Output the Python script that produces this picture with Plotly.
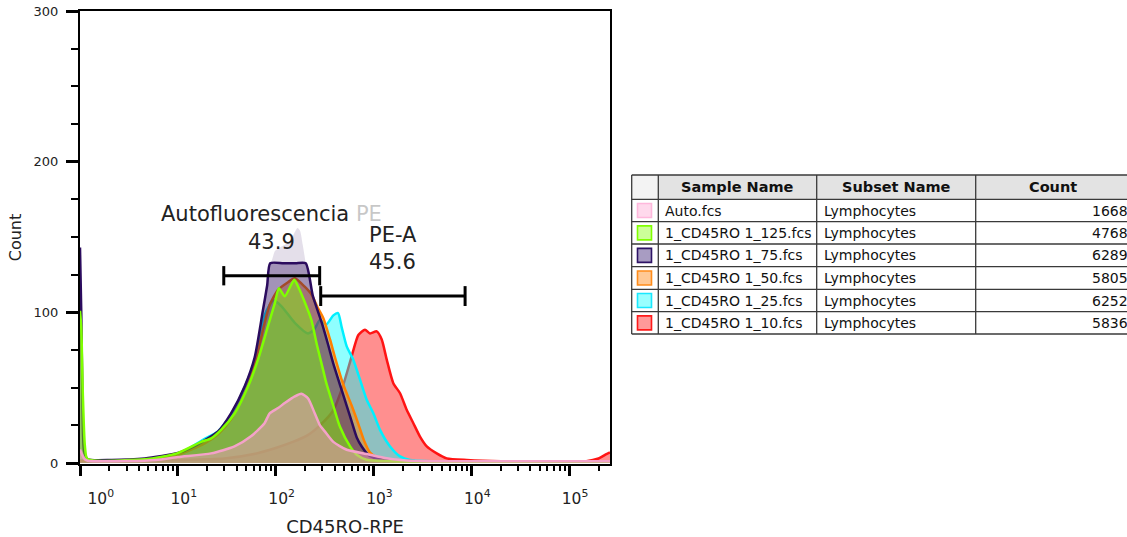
import math
import plotly.graph_objects as go

# ---------------- data ----------------
# CD45RO-RPE intensity (x) and Count (y) for each overlaid histogram
x_auto = [1, 1.06, 1.12, 1.2, 3, 6, 10, 21.9, 38, 56, 77, 87, 106, 124, 157, 183, 214, 251, 284, 318, 389, 533, 853, 1368, 1900, 3000, 262144]
y_auto = [9, 5, 2.5, 1.5, 1.3, 2, 4, 6.4, 11, 17.7, 26.4, 33, 36.5, 39.8, 44.2, 46, 43, 33, 25, 21, 14, 8.8, 6, 3.1, 2, 1.3, 1.2]

x_125 = [1, 1.03, 1.07, 1.12, 1.18, 1.5, 4.6, 6.7, 10, 17.3, 21.9, 27.7, 38.2, 52.2, 66, 83.6, 98, 108, 124, 155, 170, 195, 232, 263, 300, 330, 389, 455, 577, 675, 853, 1500, 262144]
y_125 = [101, 90, 45, 12, 3, 1.5, 2.5, 4, 6.6, 14, 16.4, 22, 33, 50.7, 68.6, 91, 106, 116, 110.6, 121.7, 117, 108, 95, 79, 64, 53, 38, 24, 11, 5.5, 2.2, 1.2, 1]

x_75 = [1, 1.03, 1.06, 1.1, 1.2, 2.1, 4.6, 10, 13.6, 18.8, 25.8, 35, 48.3, 61, 74, 82, 88, 120, 160, 203, 240, 300, 346, 389, 492, 577, 675, 759, 900, 1081, 1500, 3000, 262144]
y_75 = [143, 100, 40, 8, 2.5, 2, 3, 6.6, 10, 15, 21, 33, 51, 70, 101, 118, 132.6, 132.6, 132.6, 132.6, 111, 92, 78, 66, 45, 31, 17, 11, 5, 3, 1.6, 1.2, 1]

x_75_peak = [88, 91, 98.5, 115, 134, 152, 167, 178, 189, 203]
y_75_peak = [132.6, 134, 140.7, 143.7, 146, 151.4, 155.9, 154, 145, 132.6]

x_50 = [1, 1.3, 4.6, 10, 18.8, 25.8, 35, 48, 61, 74, 87, 106, 134, 157, 198, 232, 270, 308, 360, 405, 492, 600, 700, 800, 923, 1100, 1400, 3000, 262144]
y_50 = [1.5, 1.5, 2.5, 5.5, 13, 19, 29, 46, 65, 88, 105, 115, 120, 122.6, 117, 112, 103, 96, 82, 70, 52, 38, 26, 15, 7, 3.5, 2, 1.2, 1]

x_25 = [1, 1.3, 4.6, 10, 18.8, 25.8, 35, 48, 61, 77, 95, 115, 157, 214, 250, 284, 330, 389, 435, 474, 533, 622, 729, 853, 998, 1167, 1479, 1871, 2366, 4000, 262144]
y_25 = [1.5, 1.5, 2.5, 6, 16, 21, 32, 50, 68, 98, 108, 104, 93, 86, 89, 95, 92, 98, 99.5, 90, 77.4, 68.6, 55.3, 42, 33, 22, 11, 4.4, 2, 1.2, 1]

x_10 = [1, 2, 10, 30, 60, 100, 150, 207, 284, 389, 492, 600, 701, 820, 923, 1081, 1216, 1368, 1596, 1871, 2188, 2559, 2992, 3508, 4436, 5610, 9000, 20000, 150000, 200000, 235000, 262144]
y_10 = [1, 1.5, 2, 3, 6, 10, 14, 18, 25, 35, 52, 71, 85, 88.5, 86, 87.4, 82, 68.6, 53, 46.3, 35.3, 26.4, 17.5, 11, 6.4, 3.1, 2, 1.2, 1.2, 3, 5.5, 7]

# gates: [low, high], level (Count)
gate_auto = [29.5, 282]
gate_auto_y = 124.3
gate_auto_label = "Autofluorescencia PE"
gate_auto_pct = "43.9"
gate_pe = [289, 8650]
gate_pe_y = 110.8
gate_pe_label = "PE-A"
gate_pe_pct = "45.6"

# table
sample_names = ["Auto.fcs", "1_CD45RO 1_125.fcs", "1_CD45RO 1_75.fcs", "1_CD45RO 1_50.fcs", "1_CD45RO 1_25.fcs", "1_CD45RO 1_10.fcs"]
subset_names = ["Lymphocytes"] * 6
counts = ["1668", "4768", "6289", "5805", "6252", "5836"]
table_headers = ["Sample Name", "Subset Name", "Count"]

# axis ticks
x_tick_vals = [1, 10, 100, 1000, 10000, 100000]
x_tick_text = ["\u00a0\u00a0\u00a0\u00a0\u00a0\u00a010<sup>0</sup>", "10<sup>1</sup>", "10<sup>2</sup>", "10<sup>3</sup>", "10<sup>4</sup>", "10<sup>5</sup>"]
y_tick_vals = [0, 100, 200, 300]
x_minor_vals = [d * 10 ** k for k in range(0, 6) for d in range(2, 10) if d * 10 ** k <= 262144]

FONT = "DejaVu Sans"

# ---------------- figure ----------------
fig = go.Figure()

def hist(x, y, line, fill, name):
    fig.add_trace(go.Scatter(x=x, y=y, mode="lines", name=name,
                             line=dict(color=line, width=2.5, shape="spline", smoothing=0.6),
                             fill="tozeroy", fillcolor=fill, hoverinfo="skip"))

hist(x_10, y_10, "#ff1414", "rgba(255,0,0,0.44)", sample_names[5])
hist(x_25, y_25, "#00f0ff", "rgba(0,255,255,0.44)", sample_names[4])
hist(x_50, y_50, "#ff8000", "rgba(255,128,0,0.44)", sample_names[3])
fig.add_trace(go.Scatter(x=x_75_peak, y=y_75_peak, mode="lines", fill="toself",
                         fillcolor="rgba(46,10,94,0.13)", line=dict(width=0, shape="spline", smoothing=0.6),
                         hoverinfo="skip"))
hist(x_75, y_75, "#2b0b5e", "rgba(46,10,94,0.44)", sample_names[2])
hist(x_125, y_125, "#7fff00", "rgba(128,255,0,0.44)", sample_names[1])
hist(x_auto, y_auto, "#f4a2c9", "rgba(255,153,204,0.44)", sample_names[0])

# gate bars (with end caps)
def gate(g, gy, cap):
    xs = [g[0], g[0], None, g[0], g[1], None, g[1], g[1]]
    ys = [gy - cap, gy + cap, None, gy, gy, None, gy - cap, gy + cap]
    fig.add_trace(go.Scatter(x=xs, y=ys, mode="lines", line=dict(color="black", width=3),
                             hoverinfo="skip", cliponaxis=False))

gate(gate_auto, gate_auto_y, 6.4)
gate(gate_pe, gate_pe_y, 6.6)

def gcenter(g):
    return math.log10(math.sqrt(g[0] * g[1]))

annotations = []
gfont = dict(family=FONT, size=21, color="#222")
def gtext(x, y, text, **kw):
    d = dict(x=x, y=y, xref="x", yref="y", text=text, showarrow=False, font=gfont,
             xanchor="center", yanchor="middle")
    d.update(kw)
    annotations.append(d)

gtext(gcenter(gate_auto), gate_auto_y + 40.8, gate_auto_label)
gtext(gcenter(gate_auto), gate_auto_y + 22.2, gate_auto_pct)
gtext(gcenter(gate_pe), gate_pe_y + 47.5, gate_pe_label, bgcolor="rgba(255,255,255,0.75)",
      width=74, height=44, valign="bottom")
gtext(gcenter(gate_pe), gate_pe_y + 22.6, gate_pe_pct)

# ---------------- table (pixel layout converted to paper coords) ----------------
L, R, T, B = 80, 610, 11, 464
def px(X):
    return (X - L) / (R - L)
def py(Y):
    return (B - Y) / (B - T)

shapes = []
col_x = [631.7, 658.3, 816.7, 975.7, 1131]
row_y = [175, 199.3, 221.7, 244, 266.7, 289.3, 311.7, 334]
grid = "#3a3a3a"
shapes.append(dict(type="rect", xref="paper", yref="paper", x0=px(col_x[0]), x1=px(col_x[1]),
                   y0=py(row_y[0]), y1=py(row_y[1]), fillcolor="#f3f3f3", line=dict(width=0), layer="below"))
shapes.append(dict(type="rect", xref="paper", yref="paper", x0=px(col_x[1]), x1=px(col_x[4]),
                   y0=py(row_y[0]), y1=py(row_y[1]), fillcolor="#e3e3e3", line=dict(width=0), layer="below"))
for X in col_x:
    shapes.append(dict(type="line", xref="paper", yref="paper", x0=px(X), x1=px(X),
                       y0=py(row_y[0]), y1=py(row_y[-1]), line=dict(color=grid, width=1.3)))
for Y in row_y:
    shapes.append(dict(type="line", xref="paper", yref="paper", x0=px(col_x[0]), x1=px(col_x[-1]),
                       y0=py(Y), y1=py(Y), line=dict(color=grid, width=1.3)))

sw_line = ["#ffb8dc", "#80ff00", "#2e1466", "#ff8c1a", "#1ae8ff", "#ff1a1a"]
sw_fill = ["#ffd9ec", "#ccff99", "#a89cc2", "#ffc995", "#99ffff", "#ff9999"]
hfont = dict(family=FONT, size=14.5, color="#111")
bfont = dict(family=FONT, size=14, color="#111")

def ptext(X, Y, text, font, xanchor):
    annotations.append(dict(x=px(X), y=py(Y), xref="paper", yref="paper", text=text,
                            showarrow=False, font=font, xanchor=xanchor, yanchor="middle"))

hy = (row_y[0] + row_y[1]) / 2
for i, h in enumerate(table_headers):
    cx = (col_x[i + 1] + col_x[i + 2]) / 2
    ptext(cx, hy, "<b>%s</b>" % h, hfont, "center")
for r in range(6):
    cy = (row_y[r + 1] + row_y[r + 2]) / 2
    shapes.append(dict(type="rect", xref="paper", yref="paper", x0=px(637.5), x1=px(651.5),
                       y0=py(cy + 7), y1=py(cy - 7), fillcolor=sw_fill[r],
                       line=dict(color=sw_line[r], width=1.6)))
    ptext(663, cy, sample_names[r], bfont, "left")
    ptext(822, cy, subset_names[r], bfont, "left")
    ptext(1130, cy, counts[r], bfont, "right")

fig.update_layout(
    width=1127, height=537,
    margin=dict(l=L, r=1127 - R, t=T, b=537 - B),
    paper_bgcolor="white", plot_bgcolor="white",
    showlegend=False,
    font=dict(family=FONT, color="#222"),
    shapes=shapes, annotations=annotations,
)
fig.update_xaxes(
    type="log", range=[0, math.log10(262144)], automargin=False,
    tickmode="array", tickvals=x_tick_vals, ticktext=x_tick_text,
    ticks="outside", ticklen=10, tickwidth=2.5, tickcolor="black",
    showline=True, linewidth=2, linecolor="black", mirror=True,
    showgrid=False, zeroline=False,
    tickfont=dict(family=FONT, size=15.5, color="#222"),
    ticklabelshift=6, ticklabelstandoff=9,
    minor=dict(tickmode="array", tickvals=x_minor_vals, ticks="outside", ticklen=5, tickwidth=1.5,
               tickcolor="black", showgrid=False),
    title=dict(text="CD45RO-RPE", font=dict(family=FONT, size=18, color="#222"), standoff=16),
)
fig.update_yaxes(
    range=[-0.66, 300], automargin=False,
    tickmode="array", tickvals=y_tick_vals,
    ticks="outside", ticklen=12, tickwidth=2.5, tickcolor="black",
    showline=True, linewidth=2, linecolor="black", mirror=True,
    showgrid=False, zeroline=False,
    tickfont=dict(family=FONT, size=13, color="#222"),
    ticklabelstandoff=5,
    minor=dict(dtick=25, ticks="outside", ticklen=7, tickwidth=1.5, tickcolor="black", showgrid=False),
    title=dict(text="Count", font=dict(family=FONT, size=16, color="#222"), standoff=8),
)

fig.write_html("out.html", config={"displayModeBar": False},
               post_script="document.body.style.margin='0';document.body.style.overflow='hidden';")
